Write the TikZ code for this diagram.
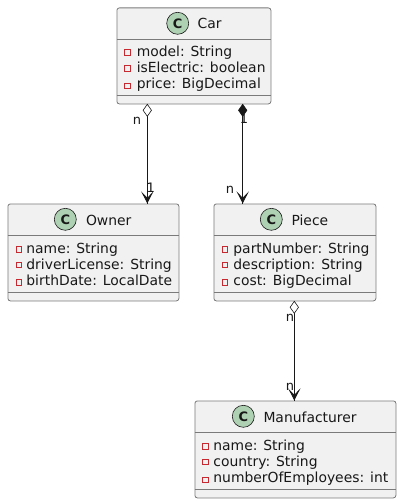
\documentclass[tikz,border=0pt]{standalone}
\usepackage{fontspec}
\setmainfont{DejaVu Sans}
\definecolor{boxfill}{HTML}{F1F1F1}
\definecolor{boxline}{HTML}{7A7A7A}
\definecolor{spot}{HTML}{ADD1B2}
\definecolor{vis}{HTML}{C82930}
\definecolor{ink}{HTML}{181818}
\tikzset{
 x=1pt,y=-1pt,
 classbox/.style={draw=boxline,fill=boxfill,line width=.8pt,rounded corners=2.5pt,inner sep=0pt,anchor=north west},
 sepline/.style={draw=boxline,line width=.8pt},
 spotc/.style={circle,draw=ink,fill=spot,line width=.6pt,minimum size=22pt,inner sep=0pt,font=\fontsize{13}{13}\selectfont\bfseries,text=ink},
 title/.style={anchor=base west,inner sep=0pt,font=\fontsize{13.9}{14}\selectfont,text=ink},
 attr/.style={anchor=base west,inner sep=0pt,font=\fontsize{13.9}{14}\selectfont,text=ink},
 visbox/.style={draw=vis,line width=.7pt,minimum size=5.2pt,inner sep=0pt,fill=none},
 rel/.style={draw=ink,line width=.9pt},
 card/.style={inner sep=0pt,anchor=base,font=\fontsize{13}{13}\selectfont,text=ink},
}
% name, x, y, w, h, offset of the lower separator
\newcommand{\classbody}[6]{%
 \node[classbox,minimum width=#4pt,minimum height=#5pt] (#1) at (#2,#3) {};
 \draw[sepline] (#2,#3+32) -- (#2+#4,#3+32);
 \draw[sepline] (#2,#3+#6) -- (#2+#4,#3+#6);
}
% name, circle x, circle y, title x, baseline, text
\newcommand{\classhead}[6]{%
 \node[spotc] (#1spot) at (#2,#3) {C};
 \node[title] (#1title) at (#4,#5) {#6};
}
% name, square x, square y, text x, baseline, text
\newcommand{\attrrow}[6]{%
 \node[visbox] (#1v) at (#2,#3) {};
 \node[attr] (#1t) at (#4,#5) {#6};
}
\newcommand{\openhead}[2]{\filldraw[draw=ink,fill=ink,line width=.7pt,line join=miter] (#1,#2-.7) -- (#1-4.8,#2-10) -- (#1,#2-5) -- (#1+4.8,#2-10) -- cycle;}
\newcommand{\dia}[3]{\filldraw[draw=ink,fill=#3,line width=.6pt] (#1,#2) -- (#1-4.2,#2+6) -- (#1,#2+12) -- (#1+4.2,#2+6) -- cycle;}
\begin{document}
\begin{tikzpicture}
\useasboundingbox (0,0) rectangle (401,503);
\classbody{car}{116.5}{7.5}{154}{96}{88}
\classhead{car}{177.7}{23.3}{197.5}{28.3}{Car}
\attrrow{a}{127.3}{52.3}{136.6}{56.3}{model: String}
\attrrow{b}{127.3}{68.3}{136.6}{72.5}{isElectric: boolean}
\attrrow{c}{127.3}{85.5}{136.6}{88.5}{price: BigDecimal}
\classbody{owner}{7.5}{203.5}{171}{97}{89}
\classhead{owner}{65.3}{219.3}{85.8}{225}{Owner}
\attrrow{d}{18.7}{249.3}{26.2}{253.3}{name: String}
\attrrow{e}{18.7}{265.2}{26.2}{269.5}{driverLicense: String}
\attrrow{f}{18.7}{282.3}{26.2}{285.3}{birthDate: LocalDate}
\classbody{piece}{213.5}{203.5}{162}{97}{89}
\classhead{piece}{271.3}{219.3}{291.3}{225}{Piece}
\attrrow{g}{224.7}{249.3}{233.2}{253.3}{partNumber: String}
\attrrow{h}{224.7}{265.2}{233.2}{269.5}{description: String}
\attrrow{i}{224.7}{282.3}{233.2}{285.3}{cost: BigDecimal}
\classbody{man}{194.5}{400.5}{201}{97}{89}
\classhead{man}{243.3}{416.3}{263.3}{422}{Manufacturer}
\attrrow{j}{205.3}{446.3}{213.2}{450.3}{name: String}
\attrrow{k}{205.3}{462.2}{213.2}{466.5}{country: String}
\attrrow{l}{205.3}{479.5}{213.2}{482.3}{numberOfEmployees: int}
\draw[rel] (147.3,0 |- car.south) -- (147.3,0 |- owner.north);
\draw[rel] (242.7,0 |- car.south) -- (242.7,0 |- piece.north);
\draw[rel] (294.3,0 |- piece.south) -- (294.3,0 |- man.north);
\dia{147.3}{104.3}{white}\dia{242.7}{104.3}{ink}\dia{294.3}{301.3}{white}
\openhead{147.3}{203.3}\openhead{242.7}{203.3}\openhead{294.3}{400.3}
\node[card] (c1) at (137,124) {n};
\node[card] (c2) at (150.7,192.7) {1};
\node[card] (c3) at (244,123.7) {1};
\node[card] (c4) at (230,193) {n};
\node[card] (c5) at (290,321.6) {n};
\node[card] (c6) at (290,390) {n};
\end{tikzpicture}
\end{document}
